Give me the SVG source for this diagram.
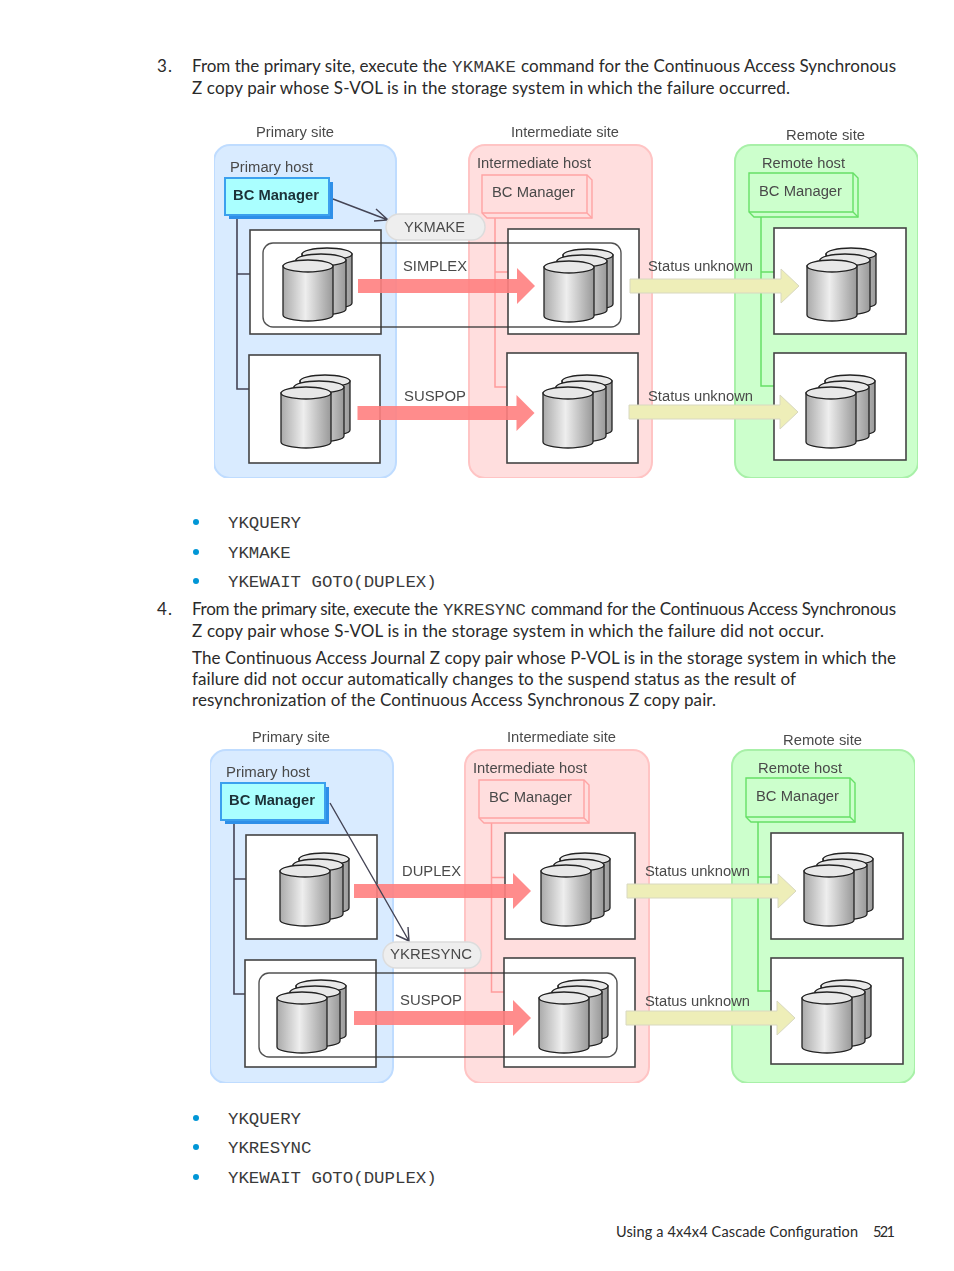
<svg xmlns="http://www.w3.org/2000/svg" width="954" height="1271" viewBox="0 0 954 1271">
<style>
.b{font-family:"Lato","Liberation Sans",sans-serif;font-size:17px;fill:#2a2a2a}
.m{font-family:"Liberation Mono",monospace;font-size:17.4px;fill:#3a3a3a}
.f{font-family:"Lato","Liberation Sans",sans-serif;font-size:14.5px;fill:#2a2a2a}
.l{font-family:"Liberation Sans",sans-serif;font-size:15.2px;fill:#4a4a4a}
.lb{font-family:"Liberation Sans",sans-serif;font-size:15.2px;font-weight:bold;fill:#1c3038}
.site-p{fill:#d9ebff;stroke:#bfdcff;stroke-width:2}
.site-i{fill:#ffdede;stroke:#ffc4c4;stroke-width:2}
.site-r{fill:#ccffcc;stroke:#a8f0a8;stroke-width:2}
.box{fill:#fff;stroke:#444;stroke-width:1.6}
.pair{fill:none;stroke:#333;stroke-width:1.4;stroke-opacity:.85}
.ln-p{fill:none;stroke:#445;stroke-width:1.6}
.ln-i{fill:none;stroke:#ff9c9c;stroke-width:1.5}
.ln-r{fill:none;stroke:#66e066;stroke-width:1.5}
.red{fill:#ff8080;fill-opacity:.9}
.yel{fill:#eeeeb8;stroke:#d8d8c0;stroke-width:1}
.pill{fill:#eeeeee;stroke:#dcdcdc;stroke-width:1.5}
.cmd{fill:none;stroke:#445;stroke-width:1.4}
.bul{fill:#0096d6}
.cy{fill:url(#cg);stroke:#222;stroke-width:1.3}
.ct{fill:#e8e8e8;stroke:#222;stroke-width:1.3}
</style>
<defs>
<linearGradient id="cg" x1="0" x2="1" y1="0" y2="0"><stop offset="0" stop-color="#aaa"/><stop offset=".45" stop-color="#eee"/><stop offset="1" stop-color="#999"/></linearGradient>
<filter id="soft" x="0" y="0" width="1" height="1"><feGaussianBlur stdDeviation="0.6"/></filter>
<g id="cyl1"><path class="cy" d="M0,6V55A25,6 0 0 0 50,55V6Z"/><ellipse class="ct" cx="25" cy="6" rx="25" ry="6"/></g>
<g id="stack"><use href="#cyl1" x="19" y="-12"/><use href="#cyl1" x="13" y="-6"/><use href="#cyl1"/></g>
<g id="mgrB"><rect x="4" y="4" width="104" height="37" fill="#2f8fe8"/><rect width="104" height="37" fill="#aaffff" stroke="#3aa0ee" stroke-width="2"/></g>
<g id="mgrI"><path d="M0,0H105L110,5V43H5L0,38Z" fill="#ffdede" stroke="#ffa4a4" stroke-width="1.4"/><path d="M105,0V38H0M105,38L110,43" fill="none" stroke="#ffa4a4" stroke-width="1.4"/></g>
<g id="mgrR"><path d="M0,0H104L109,5V44H5L0,39Z" fill="#ccffcc" stroke="#66e066" stroke-width="1.4"/><path d="M104,0V39H0M104,39L109,44" fill="none" stroke="#66e066" stroke-width="1.4"/></g>
<path id="arrR" d="M0,-7H159V-18L177,0L159,18V7H0Z"/>
<path id="arrY" d="M0,-7H151V-17L169,0L151,17V7H0Z"/>
</defs>

<g id="page-text">
<text class="b" x="157" y="72" textLength="15">3.</text>
<text class="b" x="192" y="72" textLength="255">From the primary site, execute the</text>
<text class="m" x="452" y="72" textLength="64">YKMAKE</text>
<text class="b" x="521" y="72" textLength="375">command for the Continuous Access Synchronous</text>
<text class="b" x="192" y="94" textLength="598">Z copy pair whose S-VOL is in the storage system in which the failure occurred.</text>
<circle class="bul" cx="196" cy="522" r="3"/><text class="m" x="228" y="528">YKQUERY</text>
<circle class="bul" cx="196" cy="552" r="3"/><text class="m" x="228" y="558">YKMAKE</text>
<circle class="bul" cx="196" cy="581" r="3"/><text class="m" x="228" y="587">YKEWAIT GOTO(DUPLEX)</text>
<text class="b" x="157" y="615" textLength="15">4.</text>
<text class="b" x="192" y="615" textLength="246">From the primary site, execute the</text>
<text class="m" x="443" y="615" textLength="83">YKRESYNC</text>
<text class="b" x="531" y="615" textLength="365">command for the Continuous Access Synchronous</text>
<text class="b" x="192" y="637" textLength="632">Z copy pair whose S-VOL is in the storage system in which the failure did not occur.</text>
<text class="b" x="192" y="664" textLength="704">The Continuous Access Journal Z copy pair whose P-VOL is in the storage system in which the</text>
<text class="b" x="192" y="685" textLength="604">failure did not occur automatically changes to the suspend status as the result of</text>
<text class="b" x="192" y="706" textLength="524">resynchronization of the Continuous Access Synchronous Z copy pair.</text>
<circle class="bul" cx="196" cy="1118" r="3"/><text class="m" x="228" y="1124">YKQUERY</text>
<circle class="bul" cx="196" cy="1147" r="3"/><text class="m" x="228" y="1153">YKRESYNC</text>
<circle class="bul" cx="196" cy="1177" r="3"/><text class="m" x="228" y="1183">YKEWAIT GOTO(DUPLEX)</text>
<text class="f" x="616" y="1237" textLength="242">Using a 4x4x4 Cascade Configuration</text>
<text class="f" x="873" y="1237" textLength="22">521</text>
</g>

<g id="diagram1" filter="url(#soft)">
<g id="d1-sites">
<g id="d1-primary-site"><rect class="site-p" x="214" y="145" width="182" height="333" rx="16"/><text class="l" x="256" y="137" textLength="78" lengthAdjust="spacingAndGlyphs">Primary site</text><text class="l" x="230" y="172" textLength="83" lengthAdjust="spacingAndGlyphs">Primary host</text></g>
<g id="d1-intermediate-site"><rect class="site-i" x="469" y="145" width="183" height="333" rx="16"/><text class="l" x="511" y="137" textLength="108" lengthAdjust="spacingAndGlyphs">Intermediate site</text><text class="l" x="477" y="168" textLength="114" lengthAdjust="spacingAndGlyphs">Intermediate host</text></g>
<g id="d1-remote-site"><rect class="site-r" x="735" y="145" width="183" height="333" rx="16"/><text class="l" x="786" y="140" textLength="79" lengthAdjust="spacingAndGlyphs">Remote site</text><text class="l" x="762" y="168" textLength="83" lengthAdjust="spacingAndGlyphs">Remote host</text></g>
</g>
<g id="d1-host-lines">
<path class="ln-p" d="M237,217V389H249M237,274H250"/>
<path class="ln-i" d="M495,213V387H508M495,272H508"/>
<path class="ln-r" d="M761,212V386H774M761,272H774"/>
</g>
<g id="d1-bc-primary"><use href="#mgrB" x="225" y="178"/><text class="lb" x="233" y="200" textLength="86" lengthAdjust="spacingAndGlyphs">BC Manager</text></g>
<g id="d1-bc-intermediate"><use href="#mgrI" x="482" y="175"/><text class="l" x="492" y="197" textLength="83" lengthAdjust="spacingAndGlyphs">BC Manager</text></g>
<g id="d1-bc-remote"><use href="#mgrR" x="749" y="173"/><text class="l" x="759" y="196" textLength="83" lengthAdjust="spacingAndGlyphs">BC Manager</text></g>
<g id="d1-vol-p1"><rect class="box" x="250" y="230" width="131" height="104"/><use href="#stack" x="283" y="260"/></g>
<g id="d1-vol-p2"><rect class="box" x="249" y="355" width="131" height="108"/><use href="#stack" x="281" y="387"/></g>
<g id="d1-vol-i1"><rect class="box" x="508" y="229" width="131" height="105"/><use href="#stack" x="544" y="261"/></g>
<g id="d1-vol-i2"><rect class="box" x="507" y="353" width="131" height="110"/><use href="#stack" x="543" y="387"/></g>
<g id="d1-vol-r1"><rect class="box" x="774" y="228" width="132" height="106"/><use href="#stack" x="807" y="260"/></g>
<g id="d1-vol-r2"><rect class="box" x="774" y="353" width="132" height="107"/><use href="#stack" x="806" y="387"/></g>
<g id="d1-pair-group"><rect class="pair" x="263" y="243" width="358" height="84" rx="10"/></g>
<g id="d1-connectors">
<use class="red" href="#arrR" x="358" y="286"/>
<use class="red" href="#arrR" x="357.500" y="413"/>
<use class="yel" href="#arrY" x="630" y="286"/>
<use class="yel" href="#arrY" x="629" y="412"/>
<path class="cmd" d="M333,199L388,220M376,209L388,220L374,221"/>
</g>
<g id="d1-ykmake"><rect class="pill" x="386" y="214" width="99" height="26" rx="13"/><text class="l" x="404" y="232" textLength="61" lengthAdjust="spacingAndGlyphs">YKMAKE</text></g>
<g id="d1-labels">
<text class="l" x="403" y="271" textLength="64" lengthAdjust="spacingAndGlyphs">SIMPLEX</text>
<text class="l" x="404" y="401" textLength="62" lengthAdjust="spacingAndGlyphs">SUSPOP</text>
<text class="l" x="648" y="271" textLength="105" lengthAdjust="spacingAndGlyphs">Status unknown</text>
<text class="l" x="648" y="401" textLength="105" lengthAdjust="spacingAndGlyphs">Status unknown</text>
</g>
</g>

<g id="diagram2" filter="url(#soft)">
<g id="d2-sites">
<g id="d2-primary-site"><rect class="site-p" x="210" y="750" width="183" height="333" rx="16"/><text class="l" x="252" y="742" textLength="78" lengthAdjust="spacingAndGlyphs">Primary site</text><text class="l" x="226" y="777" textLength="84" lengthAdjust="spacingAndGlyphs">Primary host</text></g>
<g id="d2-intermediate-site"><rect class="site-i" x="465" y="750" width="184" height="333" rx="16"/><text class="l" x="507" y="742" textLength="109" lengthAdjust="spacingAndGlyphs">Intermediate site</text><text class="l" x="473" y="773" textLength="114" lengthAdjust="spacingAndGlyphs">Intermediate host</text></g>
<g id="d2-remote-site"><rect class="site-r" x="732" y="750" width="183" height="333" rx="16"/><text class="l" x="783" y="745" textLength="79" lengthAdjust="spacingAndGlyphs">Remote site</text><text class="l" x="758" y="773" textLength="84" lengthAdjust="spacingAndGlyphs">Remote host</text></g>
</g>
<g id="d2-host-lines">
<path class="ln-p" d="M234,822V994H246M234,879H246"/>
<path class="ln-i" d="M491.500,818V992H504M491.500,877.500H505"/>
<path class="ln-r" d="M758,817V991H771M758,877H771"/>
</g>
<g id="d2-bc-primary"><use href="#mgrB" x="221" y="783"/><text class="lb" x="229" y="805" textLength="86" lengthAdjust="spacingAndGlyphs">BC Manager</text></g>
<g id="d2-bc-intermediate"><use href="#mgrI" x="479" y="780"/><text class="l" x="489" y="802" textLength="83" lengthAdjust="spacingAndGlyphs">BC Manager</text></g>
<g id="d2-bc-remote"><use href="#mgrR" x="746" y="778"/><text class="l" x="756" y="801" textLength="83" lengthAdjust="spacingAndGlyphs">BC Manager</text></g>
<g id="d2-vol-p1"><rect class="box" x="246" y="835" width="131" height="104"/><use href="#stack" x="280" y="865"/></g>
<g id="d2-vol-p2"><rect class="box" x="245" y="960" width="131" height="107"/><use href="#stack" x="277" y="992"/></g>
<g id="d2-vol-i1"><rect class="box" x="505" y="833" width="130" height="106"/><use href="#stack" x="541" y="865"/></g>
<g id="d2-vol-i2"><rect class="box" x="504" y="958" width="131" height="109"/><use href="#stack" x="539" y="992"/></g>
<g id="d2-vol-r1"><rect class="box" x="771" y="833" width="132" height="106"/><use href="#stack" x="804" y="865"/></g>
<g id="d2-vol-r2"><rect class="box" x="771" y="958" width="132" height="106"/><use href="#stack" x="802" y="992"/></g>
<g id="d2-pair-group"><rect class="pair" x="259" y="973" width="358" height="84" rx="10"/></g>
<g id="d2-connectors">
<use class="red" href="#arrR" x="354" y="891"/>
<use class="red" href="#arrR" x="354" y="1018"/>
<use class="yel" href="#arrY" x="627" y="891"/>
<use class="yel" href="#arrY" x="626" y="1018"/>
<path class="cmd" d="M330,803L409,941M396,935L409,941L408,927"/>
</g>
<g id="d2-ykresync"><rect class="pill" x="383" y="942" width="98" height="26" rx="13"/><text class="l" x="390" y="959" textLength="82" lengthAdjust="spacingAndGlyphs">YKRESYNC</text></g>
<g id="d2-labels">
<text class="l" x="402" y="876" textLength="59" lengthAdjust="spacingAndGlyphs">DUPLEX</text>
<text class="l" x="400" y="1005" textLength="62" lengthAdjust="spacingAndGlyphs">SUSPOP</text>
<text class="l" x="645" y="876" textLength="105" lengthAdjust="spacingAndGlyphs">Status unknown</text>
<text class="l" x="645" y="1006" textLength="105" lengthAdjust="spacingAndGlyphs">Status unknown</text>
</g>
</g>
</svg>
